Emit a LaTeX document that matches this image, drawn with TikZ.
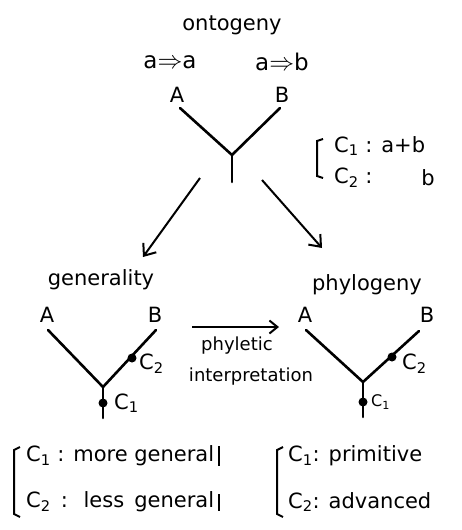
\documentclass[tikz,border=0pt]{standalone}
\usepackage{fontspec}
\setmainfont{DejaVu Sans}
\usetikzlibrary{arrows.meta}
\newcommand{\Csub}[1]{C\textsubscript{#1}}
\begin{document}
\begin{tikzpicture}[x=1pt,y=-1pt,
  lbl/.style={inner sep=0pt,font=\fontsize{21}{24}\selectfont},
  small/.style={inner sep=0pt,font=\fontsize{18}{20}\selectfont},
  tiny/.style={inner sep=0pt,font=\fontsize{16}{18}\selectfont},
  branch/.style={line width=2.6pt,line cap=round},
  conn/.style={line width=2pt,-{Straight Barb[length=10pt,width=16pt,line width=2pt]}},
  brk/.style={line width=2pt},
  dot/.style={circle,fill=black,inner sep=0pt,minimum size=9pt}]
\useasboundingbox[fill=white] (0,0) rectangle (461,530);
% ---- ontogeny tree ----
\node[lbl] (onto) at (232,25) {ontogeny};
\node[lbl,font=\fontsize{23}{26}\selectfont] (aa) at (170,62) {a$\Rightarrow$a};
\node[lbl,font=\fontsize{23}{26}\selectfont] (ab) at (282,62) {a$\Rightarrow$b};
\node[lbl] (tA) at (177,95) {A};
\node[lbl] (tB) at (282,95) {B};
\coordinate (tAe) at (180,108);
\coordinate (tBe) at (280,108);
\coordinate (tJ) at (232,155);
\coordinate (tS) at (232,182);
\draw[branch] (tAe) -- (tJ) -- (tBe);
\draw[branch] (tJ) -- (tS);
% bracket C1/C2
\draw[brk] (323,139) -- (317,141) -- (317,176) -- (323,178);
\node[lbl,anchor=west] (tc1) at (334,146) {\Csub{1} : a+b};
\node[lbl,anchor=west] (tc2) at (334,178) {\Csub{2} :};
\node[lbl] (tb) at (428,178) {b};
% ---- arrows ----
\coordinate (arL0) at (200,178);
\coordinate (arL1) at (143,257);
\coordinate (arR0) at (262,180);
\coordinate (arR1) at (322,248);
\draw[conn] (arL0) -- (arL1);
\draw[conn] (arR0) -- (arR1);
% ---- generality tree ----
\node[lbl] (gen) at (101,280) {generality};
\node[lbl] (gA) at (47,315) {A};
\node[lbl] (gB) at (155,315) {B};
\coordinate (gAe) at (48,330);
\coordinate (gBe) at (156,330);
\coordinate (gJ) at (103,387);
\coordinate (gS) at (103,418);
\draw[branch] (gAe) -- (gJ) -- (gBe);
\draw[branch] (gJ) -- (gS);
\node[dot] (gd2) at (132,358) {};
\node[dot] (gd1) at (103,403) {};
\node[lbl,anchor=west] (gl2) at (139,364) {\Csub{2}};
\node[lbl,anchor=west] (gl1) at (114,403) {\Csub{1}};
% ---- phyletic interpretation ----
\coordinate (ph0) at (192,327);
\coordinate (ph1) at (279,327);
\draw[line width=2pt,-{Straight Barb[length=8pt,width=13pt,line width=2pt]}] (ph0) -- (ph1);
\node[small] (phy) at (237,346) {phyletic};
\node[small] (intp) at (251,377) {interpretation};
% ---- phylogeny tree ----
\node[lbl] (phyl) at (367,285) {phylogeny};
\node[lbl] (pA) at (305,315) {A};
\node[lbl] (pB) at (427,315) {B};
\coordinate (pAe) at (306,330);
\coordinate (pBe) at (419,331);
\coordinate (pJ) at (363,382);
\coordinate (pS) at (363,417);
\draw[branch] (pAe) -- (pJ) -- (pBe);
\draw[branch] (pJ) -- (pS);
\node[dot] (pd2) at (392,357) {};
\node[dot] (pd1) at (363,402) {};
\node[lbl,anchor=west] (pl2) at (402,364) {\Csub{2}};
\node[tiny,anchor=west] (pl1) at (371,402) {\Csub{1}};
% ---- bottom legends ----
\draw[brk] (20,447) -- (14,450) -- (14,514) -- (20,517);
\node[lbl,anchor=west] (g1) at (26,456) {\makebox[188pt][s]{\Csub{1} : more general}};
\node[lbl,anchor=west] (g2) at (26,502) {\makebox[188pt][s]{\Csub{2} : less general}};
\draw[brk] ([xshift=5pt,yshift=10pt]g1.east) -- ([xshift=5pt,yshift=-10pt]g1.east);
\draw[brk] ([xshift=5pt,yshift=8pt]g2.east) -- ([xshift=5pt,yshift=-9pt]g2.east);
\draw[brk] (283,447) -- (277,450) -- (277,514) -- (283,517);
\node[lbl,anchor=west] (p1) at (288,456) {\Csub{1}: primitive};
\node[lbl,anchor=west] (p2) at (288,502) {\Csub{2}: advanced};
\end{tikzpicture}
\end{document}
